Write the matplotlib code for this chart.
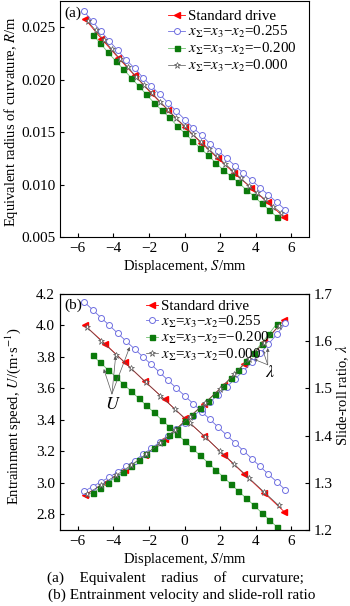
import matplotlib.pyplot as plt

plt.rcParams['font.family'] = ['Liberation Serif', 'DejaVu Serif']
plt.rcParams['mathtext.fontset'] = 'stix'

# ---- (a) equivalent radius of curvature ----
x_std_a = [-5.6, -4.67, -3.73, -2.8, -1.87, -0.93, 0.0, 0.93, 1.87, 2.8, 3.73, 4.67, 5.6]
R_std = [0.0258, 0.0239, 0.0221, 0.0204, 0.0187, 0.0171, 0.0155, 0.0140, 0.0125, 0.0111,
         0.0097, 0.0083, 0.0069]

x_pos = [-5.64, -5.17, -4.70, -4.23, -3.76, -3.29, -2.81, -2.34, -1.87, -1.40, -0.93, -0.46,
         0.02, 0.49, 0.96, 1.43, 1.90, 2.37, 2.84, 3.31, 3.78, 4.25, 4.72, 5.20, 5.67]
R_pos = [0.0265, 0.02555, 0.0246, 0.0237, 0.0228, 0.0219, 0.0211, 0.0202, 0.0194, 0.0186,
         0.0178, 0.0170, 0.0162, 0.0154, 0.0147, 0.0139, 0.0132, 0.0125, 0.0118, 0.0111,
         0.0104, 0.0097, 0.0090, 0.0083, 0.0076]

x_neg = [-5.17, -4.74, -4.31, -3.87, -3.44, -3.01, -2.58, -2.15, -1.72, -1.29, -0.85, -0.42,
         0.01, 0.44, 0.87, 1.31, 1.74, 2.17, 2.60, 3.03, 3.47, 3.90, 4.33, 4.76, 5.19]
R_neg = [0.0243, 0.0235, 0.0226, 0.0218, 0.0210, 0.0202, 0.0194, 0.0186, 0.0178, 0.0171,
         0.0164, 0.0156, 0.0149, 0.0142, 0.0135, 0.0128, 0.0121, 0.0114, 0.0108, 0.0102,
         0.0095, 0.0089, 0.0082, 0.0076, 0.0069]

x_zero_a = [-5.45, -5.0, -4.54, -4.09, -3.64, -3.18, -2.73, -2.28, -1.82, -1.37, -0.91, -0.46,
            0.0, 0.45, 0.91, 1.36, 1.81, 2.27, 2.72, 3.17, 3.63, 4.08, 4.53, 4.99, 5.44]
R_zero = [0.0256, 0.0247, 0.0238, 0.0229, 0.0220, 0.0212, 0.0203, 0.0195, 0.0187, 0.0179,
          0.0171, 0.0163, 0.0156, 0.0148, 0.0141, 0.0134, 0.0127, 0.0120, 0.0113, 0.0106,
          0.0099, 0.0092, 0.0086, 0.0079, 0.0073]

# ---- (b) entrainment speed U and slide-roll ratio lambda ----
x_std_b = [-5.6, -4.48, -3.36, -2.24, -1.12, 0.0, 1.12, 2.24, 3.36, 4.48, 5.6]
U_std = [4.00, 3.885, 3.765, 3.645, 3.53, 3.41, 3.296, 3.174, 3.055, 2.936, 2.817]
L_std = [1.274, 1.300, 1.328, 1.358, 1.392, 1.430, 1.468, 1.508, 1.552, 1.598, 1.645]

U_pos = [4.150, 4.100, 4.050, 4.001, 3.951, 3.901, 3.851, 3.801, 3.752, 3.702, 3.652, 3.602,
         3.552, 3.503, 3.453, 3.403, 3.353, 3.303, 3.254, 3.204, 3.154, 3.104, 3.054, 3.005, 2.955]
L_pos = [1.282, 1.292, 1.302, 1.312, 1.323, 1.335, 1.347, 1.360, 1.373, 1.386, 1.400, 1.413,
         1.427, 1.441, 1.456, 1.471, 1.487, 1.503, 1.520, 1.537, 1.555, 1.574, 1.594, 1.615, 1.638]

U_neg = [3.810, 3.765, 3.719, 3.674, 3.628, 3.583, 3.538, 3.492, 3.447, 3.401, 3.356, 3.311,
         3.265, 3.220, 3.174, 3.129, 3.084, 3.038, 2.993, 2.947, 2.902, 2.857, 2.811, 2.766, 2.720]
L_neg = [1.278, 1.289, 1.300, 1.311, 1.323, 1.335, 1.348, 1.361, 1.374, 1.387, 1.401, 1.415,
         1.430, 1.444, 1.459, 1.474, 1.489, 1.505, 1.522, 1.539, 1.557, 1.576, 1.595, 1.616, 1.637]

x_zero_b = [-5.5, -4.67, -3.84, -3.01, -2.18, -1.35, -0.52, 0.31, 1.14, 1.97, 2.8, 3.63, 4.46, 5.29]
U_zero = [3.99, 3.90, 3.815, 3.728, 3.64, 3.553, 3.466, 3.38, 3.293, 3.205, 3.118, 3.03, 2.943, 2.857]
L_zero = [1.276, 1.296, 1.316, 1.337, 1.360, 1.385, 1.412, 1.440, 1.469, 1.498, 1.530, 1.563,
          1.597, 1.632]

labels = ['Standard drive',
          '$x_{\\Sigma}$=$x_3$\u2212$x_2$=0.255',
          '$x_{\\Sigma}$=$x_3$\u2212$x_2$=\u22120.200',
          '$x_{\\Sigma}$=$x_3$\u2212$x_2$=0.000']

st_std = dict(color='red', marker='<', ms=4.5, lw=0.6, mfc='red', mec='red')
st_pos = dict(color='#6e6ee0', marker='o', ms=4.3, lw=0.6, mfc='white', mec='#6e6ee0', mew=0.7)
st_neg = dict(color='#70c070', marker='s', ms=3.6, lw=0.6, mfc='#0b7a0b', mec='#0b7a0b')
st_zero = dict(color='#555555', marker='*', ms=5, lw=0.5, mfc='white', mec='#555555', mew=0.5)

fig = plt.figure(figsize=(3.5, 6.06), dpi=100)
ax1 = fig.add_axes([60/350, 1-237/606, 249/350, 236/606])
ax2 = fig.add_axes([60/350, 76/606, 249/350, 236/606])
ax3 = ax2.twinx()

ax1.plot(x_std_a, R_std, label=labels[0], **st_std)
ax1.plot(x_pos, R_pos, label=labels[1], **st_pos)
ax1.plot(x_neg, R_neg, label=labels[2], **st_neg)
ax1.plot(x_zero_a, R_zero, label=labels[3], **st_zero)
ax1.set_xlim(-7, 7)
ax1.set_ylim(0.005, 0.0275)
ax1.set_xticks([-6, -4, -2, 0, 2, 4, 6])
ax1.set_yticks([0.005, 0.010, 0.015, 0.020, 0.025])
ax1.set_yticklabels(['%.3f' % v for v in [0.005, 0.010, 0.015, 0.020, 0.025]])
ax1.set_xlabel('Displacement, $S$/mm', fontsize=10.5, labelpad=2)
ax1.set_ylabel('Equivalent radius of curvature, $R$/m', fontsize=10.5)
ax1.yaxis.set_label_coords(-0.16, 0.49)
ax1.text(0.016, 0.95, '(a)', transform=ax1.transAxes, fontsize=11, ha='left', va='center')
ax1.legend(loc='upper left', bbox_to_anchor=(0.435, 0.962), frameon=False, fontsize=10.8,
           handlelength=1.1, handletextpad=0.2, labelspacing=0.06, borderpad=0, borderaxespad=0)

l1, = ax2.plot(x_std_b, U_std, **st_std)
l2, = ax2.plot(x_pos, U_pos, **st_pos)
l3, = ax2.plot(x_neg, U_neg, **st_neg)
l4, = ax2.plot(x_zero_b, U_zero, **st_zero)
ax3.plot(x_std_b, L_std, **st_std)
ax3.plot(x_pos, L_pos, **st_pos)
ax3.plot(x_neg, L_neg, **st_neg)
ax3.plot(x_zero_b, L_zero, **st_zero)
ax2.set_xlim(-7, 7)
ax2.set_ylim(2.7, 4.2)
ax3.set_ylim(1.2, 1.7)
ax2.set_xticks([-6, -4, -2, 0, 2, 4, 6])
ax2.set_yticks([2.8, 3.0, 3.2, 3.4, 3.6, 3.8, 4.0, 4.2])
ax2.set_yticklabels(['%.1f' % v for v in [2.8, 3.0, 3.2, 3.4, 3.6, 3.8, 4.0, 4.2]])
ax3.set_yticks([1.2, 1.3, 1.4, 1.5, 1.6, 1.7])
ax3.set_yticklabels(['%.1f' % v for v in [1.2, 1.3, 1.4, 1.5, 1.6, 1.7]])
ax2.set_xlabel('Displacement, $S$/mm', fontsize=10.5, labelpad=2)
ax2.set_ylabel('Entrainment speed, $U$/(m\u00b7s$^{-1}$)', fontsize=10.5)
ax2.yaxis.set_label_coords(-0.15, 0.48)
ax3.set_ylabel('Slide-roll ratio, $\\lambda$', fontsize=10.5)
ax3.yaxis.set_label_coords(1.1, 0.57)
ax2.text(0.016, 0.953, '(b)', transform=ax2.transAxes, fontsize=11, ha='left', va='center')
ax3.legend([l1, l2, l3, l4], labels, loc='upper left', bbox_to_anchor=(0.345, 0.975),
           frameon=False, fontsize=10.8, handlelength=0.8, handletextpad=0.2,
           labelspacing=0.02, borderpad=0, borderaxespad=0)

# U and lambda pointers
arr = dict(arrowstyle='-|>', color='0.35', lw=0.5, mutation_scale=5,
           shrinkA=0, shrinkB=0)
ax2.text(-4.03, 3.50, '$U$', fontsize=13, ha='center', va='center')
for tip in [(-4.54, 3.723), (-3.87, 3.806), (-3.08, 3.863)]:
    ax2.annotate('', xy=tip, xytext=(-4.08, 3.565), arrowprops=arr)
ax2.text(4.82, 3.70, '$\\lambda$', fontsize=13, ha='center', va='center')
for tip in [(3.87, 3.787), (4.40, 3.844), (4.68, 3.857)]:
    ax2.annotate('', xy=tip, xytext=(4.68, 3.75), arrowprops=arr)

for a in (ax1, ax2):
    a.tick_params(direction='in', length=3, width=0.8, labelsize=11, right=False, top=False)
ax3.tick_params(direction='in', length=3, width=0.8, labelsize=11)
for a in (ax1, ax2, ax3):
    for s in a.spines.values():
        s.set_linewidth(0.8)

fig.text(0.5, 1-578/606, '(a)    Equivalent    radius    of    curvature;', fontsize=11,
         ha='center', va='center')
fig.text(0.52, 1-595/606, '(b) Entrainment velocity and slide-roll ratio', fontsize=11,
         ha='center', va='center')

fig.savefig('out.png', dpi=100)
